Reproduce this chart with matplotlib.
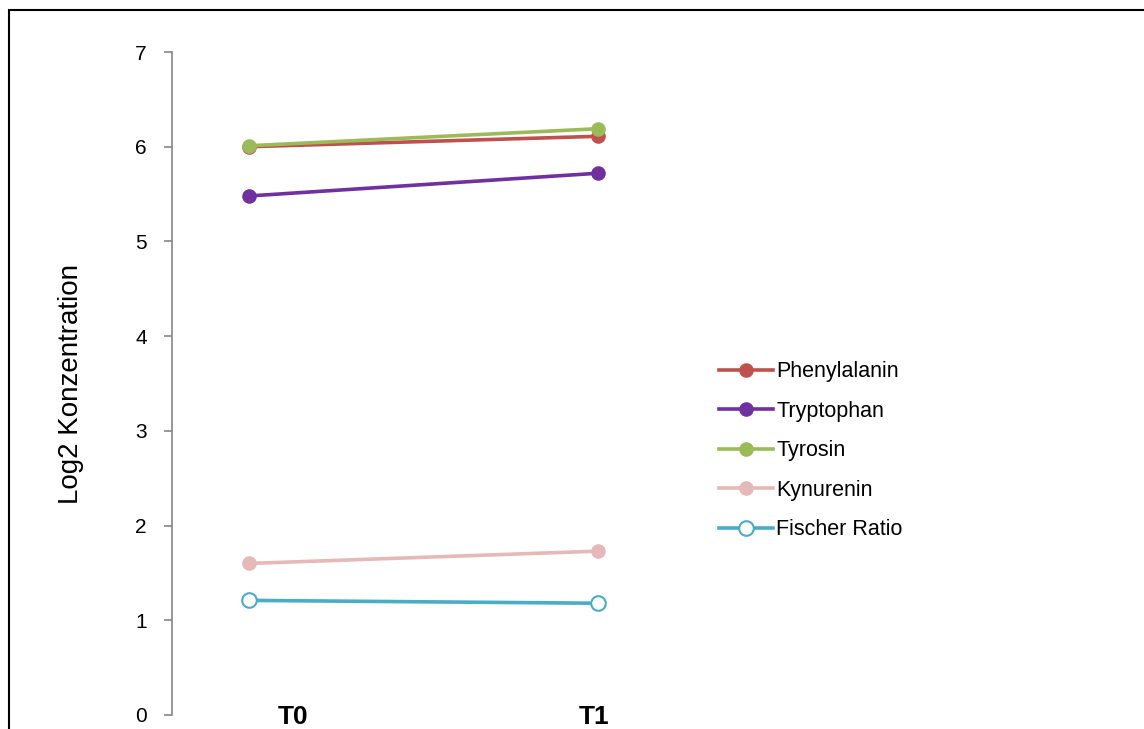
import matplotlib
matplotlib.use("Agg")
import matplotlib.pyplot as plt
import matplotlib.transforms as mtransforms
from matplotlib.patches import Rectangle

plt.rcParams['font.family'] = ['Liberation Sans', 'DejaVu Sans']

# Daten
zeitpunkte = ["T0", "T1"]
phenylalanin = [6.00, 6.11]
tryptophan = [5.48, 5.72]
tyrosin = [6.01, 6.19]
kynurenin = [1.60, 1.73]
fischer_ratio = [1.21, 1.18]

serien = [
    ("Phenylalanin", phenylalanin, "#C0504D", True),
    ("Tryptophan", tryptophan, "#7030A0", True),
    ("Tyrosin", tyrosin, "#9BBB59", True),
    ("Kynurenin", kynurenin, "#E6B9B8", True),
    ("Fischer Ratio", fischer_ratio, "#4BACC6", False),
]

W, H, DPI = 1144, 729, 100
fig = plt.figure(figsize=(W / DPI, H / DPI), dpi=DPI)

# Achsenbereich in Pixeln: links 172, oben 52, unten 715
ax_left, ax_right, ax_top, ax_bottom = 172, 680, 52, 715
ax = fig.add_axes([ax_left / W, 1 - ax_bottom / H,
                   (ax_right - ax_left) / W, (ax_bottom - ax_top) / H])

x = list(range(len(zeitpunkte)))
for name, werte, farbe, gefuellt in serien:
    ax.plot(x, werte, color=farbe, lw=2.6, marker="o", ms=10.5,
            markerfacecolor=farbe if gefuellt else "white",
            markeredgecolor=farbe, markeredgewidth=1.5 if not gefuellt else 0,
            label=name, clip_on=False, zorder=3)

# x-Bereich so, dass T0 bei px 249 und T1 bei px 598 liegt
px_per_unit = 598 - 249
ax.set_xlim((ax_left - 249) / px_per_unit, (ax_right - 249) / px_per_unit)
ax.set_ylim(0, 7)
ax.set_yticks(range(0, 8))
ax.tick_params(axis="y", direction="out", length=6, width=1.2, color="#868686",
               labelsize=15, pad=12)

ax.set_xticks(x)
ax.set_xticklabels(zeitpunkte, fontweight="bold", fontsize=19)
ax.tick_params(axis="x", length=0, pad=-10 * 72 / DPI)
# Beschriftungen wie im Original leicht versetzt
for lbl, dx in zip(ax.get_xticklabels(), [44, -4]):
    lbl.set_transform(lbl.get_transform() +
                      mtransforms.ScaledTranslation(dx / DPI, 0, fig.dpi_scale_trans))

for s in ["top", "right", "bottom"]:
    ax.spines[s].set_visible(False)
ax.spines["left"].set_color("#868686")
ax.spines["left"].set_linewidth(1.2)

ax.set_ylabel("Log2 Konzentration", fontsize=20)
ax.yaxis.set_label_coords((84 - ax_left) / (ax_right - ax_left), 0.5)

leg = fig.legend(loc="upper left", bbox_to_anchor=(700 / W, 1 - 342 / H),
                 frameon=False, fontsize=15.5, handlelength=2.5,
                 handletextpad=0.15, labelspacing=0.86)

# Rahmen um das Diagramm (rechts und unten abgeschnitten)
fig.patches.append(Rectangle((9 / W, -0.1), 1.2, 1.1 - 10 / H,
                             transform=fig.transFigure, fill=False,
                             edgecolor="black", lw=1.5, zorder=10))

fig.savefig("out.png", dpi=DPI)
